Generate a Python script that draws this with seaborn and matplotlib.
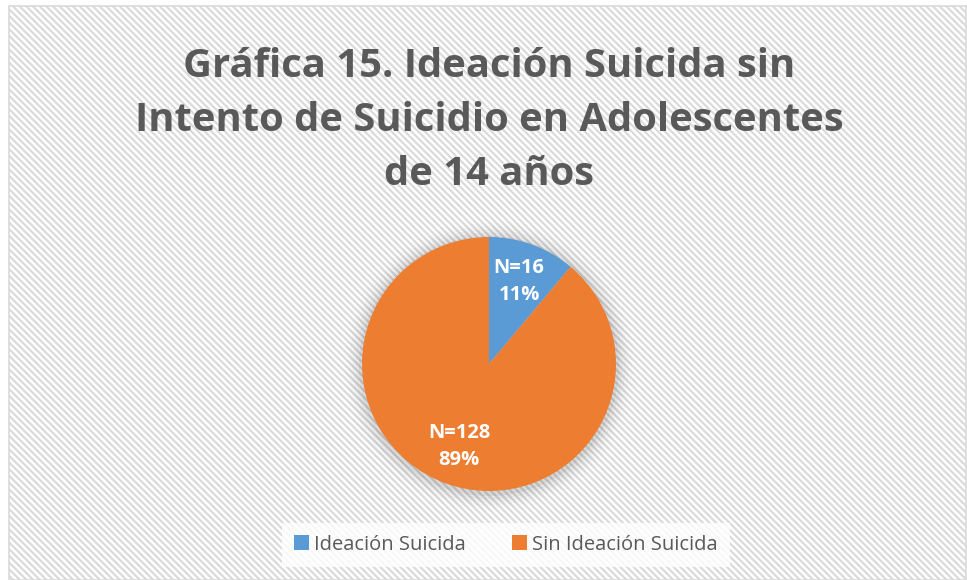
import matplotlib.pyplot as plt
import matplotlib.patches as mpatches
import seaborn as sns

# datos
categorias = ['Ideación Suicida', 'Sin Ideación Suicida']
conteos = [16, 128]
colores = ['#5b9bd5', '#ed7d31']
titulo = 'Gráfica 15. Ideación Suicida sin\nIntento de Suicidio en Adolescentes\nde 14 años'

sns.set_theme(style='white')
plt.rcParams['font.family'] = ['Open Sans', 'DejaVu Sans']
plt.rcParams['hatch.color'] = '#f4f4f4'
plt.rcParams['hatch.linewidth'] = 1.5

fig = plt.figure(figsize=(9.67, 5.8), dpi=100)
fig.patch.set_facecolor('white')

# fondo con rayas y borde
fondo = mpatches.Rectangle((0.009, 0.0), 0.99, 0.99, transform=fig.transFigure,
                           facecolor='white', edgecolor='#d9d9d9', hatch='\\\\\\\\\\',
                           linewidth=1.2, zorder=-5)
fig.patches.append(fondo)

fig.text(0.506, 0.793, titulo, ha='center', va='center', fontsize=28.8,
         fontweight='bold', color='#595959', linespacing=1.5)

# eje cuadrado centrado en el pastel
r_px = 127
lado = 2.5 * r_px
cx, cy = 489, 580 - 364
ax = fig.add_axes([(cx - lado / 2) / 967, (cy - lado / 2) / 580, lado / 967, lado / 580])
ax.set_facecolor('none')

# sombra suave
for i, a in enumerate([0.05, 0.035, 0.025, 0.018, 0.012, 0.008]):
    ax.add_patch(mpatches.Circle((0.0, -0.015), 1.0 + 0.025 * (i + 1), color='black',
                                 alpha=a, lw=0, zorder=0))

total = sum(conteos)

def etiqueta(p):
    n = int(round(p * total / 100))
    return f'N={n}\n{p:.0f}%'

wedges, textos, autotextos = ax.pie(conteos, colors=colores, startangle=90, counterclock=False,
                                    autopct=etiqueta, pctdistance=0.69,
                                    wedgeprops=dict(linewidth=0),
                                    textprops=dict(color='white', fontsize=14.5, fontweight='bold',
                                                   linespacing=1.5))
for w in wedges:
    w.set_zorder(2)
for t in autotextos:
    t.set_zorder(3)
ax.set_xlim(-1.25, 1.25)
ax.set_ylim(-1.25, 1.25)
ax.axis('off')

leg = fig.legend(wedges, categorias, loc='center', bbox_to_anchor=(0.523, 0.061), ncol=2,
                 frameon=True, fontsize=14.5, handlelength=0.75, handleheight=0.75,
                 handletextpad=0.25, columnspacing=2.3, borderpad=0.6)
leg.get_frame().set_facecolor('white')
leg.get_frame().set_edgecolor('none')
leg.get_frame().set_boxstyle('square', pad=0.0)
for t in leg.get_texts():
    t.set_color('#595959')

plt.savefig('out.png', dpi=100)
